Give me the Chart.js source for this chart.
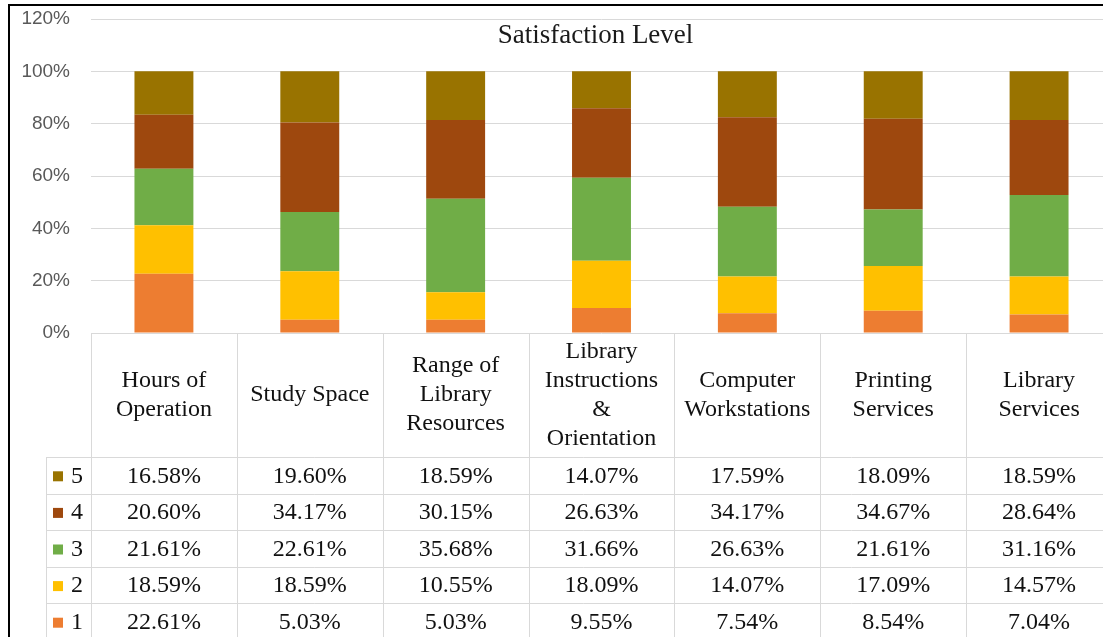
<!DOCTYPE html>
<html><head><meta charset="utf-8">
<script src="https://cdn.jsdelivr.net/npm/chart.js@4/dist/chart.umd.min.js"></script>
<style>
html,body{margin:0;padding:0;background:#fff;overflow:hidden;width:1103px;height:637px;}
#wrap{position:absolute;left:0;top:0;width:1120px;height:637px;}
#bl{position:absolute;left:8px;top:4px;width:2px;height:640px;background:#000;}
#bt{position:absolute;left:8px;top:4px;width:1100px;height:2px;background:#000;}
</style></head><body>
<div id="wrap"><canvas id="c" width="1120" height="637"></canvas></div>
<div id="bl"></div><div id="bt"></div>
<script>
const chartTitle = 'Satisfaction Level';
const categories = [
  ['Hours of','Operation'],
  ['Study Space'],
  ['Range of','Library','Resources'],
  ['Library','Instructions','&','Orientation'],
  ['Computer','Workstations'],
  ['Printing','Services'],
  ['Library','Services']
];
const seriesNames = ['1','2','3','4','5'];
const level1 = [22.61, 5.03, 5.03, 9.55, 7.54, 8.54, 7.04];
const level2 = [18.59, 18.59, 10.55, 18.09, 14.07, 17.09, 14.57];
const level3 = [21.61, 22.61, 35.68, 31.66, 26.63, 21.61, 31.16];
const level4 = [20.60, 34.17, 30.15, 26.63, 34.17, 34.67, 28.64];
const level5 = [16.58, 19.60, 18.59, 14.07, 17.59, 18.09, 18.59];
const seriesColors = ['#ED7D31', '#FFC000', '#70AD47', '#9E480E', '#997300'];
const yTickMax = 120;
const yTickStep = 20;

const seriesValues = [level1, level2, level3, level4, level5];

const GRID = '#d9d9d9';
const SERIF = '"Liberation Serif", "Times New Roman", serif';

const tablePlugin = {
  id: 'dataTable',
  afterDraw(chart) {
    const ctx = chart.ctx;
    const a = chart.chartArea;
    const x = chart.scales.x;
    const n = categories.length;
    const colW = (a.right - a.left) / n;
    const headerH = 124;
    const rowH = 36.6;
    const legendW = 45;
    const top = a.bottom;
    const headBottom = top + headerH;
    const bottom = chart.height + 5;
    ctx.save();
    // title
    ctx.font = '27px ' + SERIF;
    ctx.fillStyle = '#1a1a1a';
    ctx.textAlign = 'center';
    ctx.textBaseline = 'middle';
    ctx.fillText(chartTitle, (a.left + a.right) / 2 - 6, a.top + 17);

    // grid lines
    ctx.strokeStyle = GRID;
    ctx.lineWidth = 1;
    ctx.beginPath();
    for (let i = 0; i <= n; i++) {
      const px = Math.round(x.getPixelForValue(i) - colW / 2) + 0.5;
      ctx.moveTo(px, top); ctx.lineTo(px, bottom);
    }
    const lx = Math.round(a.left - legendW) + 0.5;
    ctx.moveTo(lx, headBottom); ctx.lineTo(lx, bottom);
    for (let r = 0; r <= seriesNames.length; r++) {
      const py = Math.round(headBottom + r * rowH) + 0.5;
      ctx.moveTo(lx, py); ctx.lineTo(chart.width, py);
    }
    ctx.stroke();

    // header labels
    ctx.font = '24px ' + SERIF;
    ctx.fillStyle = '#111';
    const lineH = 29;
    for (let i = 0; i < n; i++) {
      const cx = x.getPixelForValue(i);
      const lines = categories[i];
      const cy = top + headerH / 2;
      lines.forEach((t, k) => {
        ctx.fillText(t, cx, cy + (k - (lines.length - 1) / 2) * lineH);
      });
    }
    // rows (5 at top down to 1)
    for (let r = 0; r < seriesNames.length; r++) {
      const si = seriesNames.length - 1 - r;
      const cy = headBottom + (r + 0.5) * rowH + 1;
      ctx.fillStyle = seriesColors[si];
      ctx.fillRect(a.left - 38, cy - 5, 10, 10);
      ctx.fillStyle = '#111';
      ctx.textAlign = 'left';
      ctx.fillText(seriesNames[si], a.left - 20, cy);
      ctx.textAlign = 'center';
      for (let i = 0; i < n; i++) {
        ctx.fillText(seriesValues[si][i].toFixed(2) + '%', x.getPixelForValue(i), cy);
      }
    }
    ctx.restore();
  }
};

new Chart(document.getElementById('c'), {
  type: 'bar',
  data: {
    labels: categories,
    datasets: seriesNames.map((name, i) => ({
      label: name,
      data: seriesValues[i],
      backgroundColor: seriesColors[i],
      borderWidth: 0,
      barPercentage: 1,
      categoryPercentage: 0.404
    }))
  },
  options: {
    responsive: false,
    animation: false,
    devicePixelRatio: 1,
    layout: { padding: { top: 19, bottom: 304, left: 0, right: 8 } },
    plugins: { legend: { display: false }, tooltip: { enabled: false }, title: { display: false } },
    scales: {
      x: { stacked: true, display: false, offset: true },
      y: {
        stacked: true,
        min: 0, max: yTickMax,
        grid: { color: GRID, drawTicks: true, tickLength: 19, tickColor: 'rgba(0,0,0,0)', lineWidth: 1 },
        border: { display: false },
        afterFit(scale) { scale.width = 91; },
        ticks: {
          stepSize: yTickStep,
          padding: 2,
          color: '#595959',
          font: { family: '"Liberation Sans", Arial, sans-serif', size: 19 },
          callback: v => v + '%'
        }
      }
    }
  },
  plugins: [tablePlugin]
});
</script>
</body></html>
